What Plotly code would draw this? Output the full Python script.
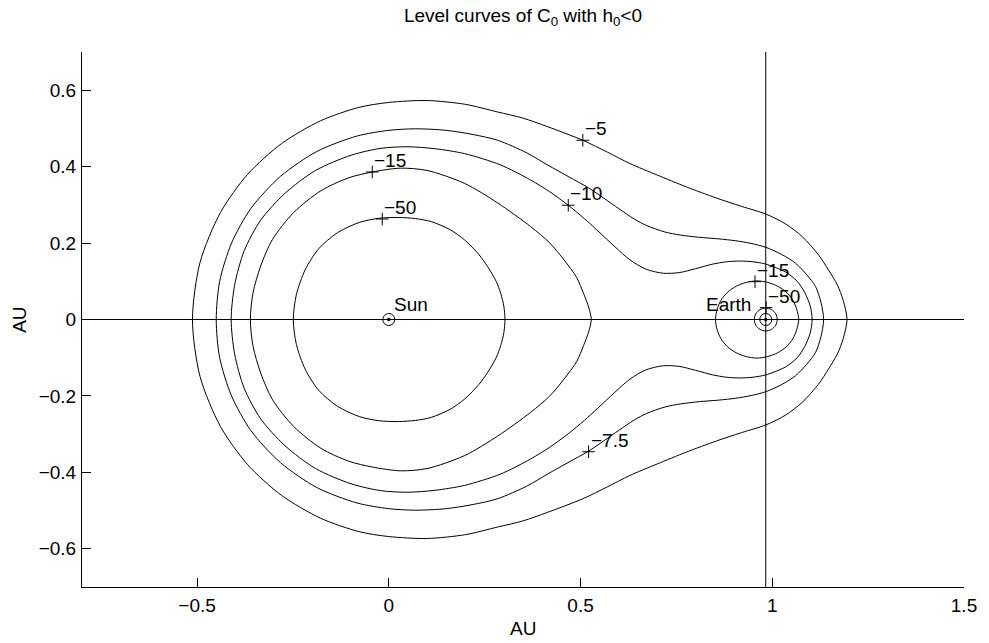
import plotly.graph_objects as go

# ---------------- data (upper halves; curves are symmetric about y=0) ----
sun_x, sun_y = 0.0, 0.0
earth_x, earth_y = 0.983, 0.0

# C0 = -5
c5_x = [-0.512, -0.492, -0.439, -0.368, -0.280, -0.178, -0.078, 0.000, 0.100, 0.200, 0.284, 0.350,
        0.413, 0.506, 0.570, 0.629, 0.700, 0.776, 0.854, 0.920, 0.983, 1.035, 1.078, 1.120, 1.147,
        1.170, 1.185, 1.195]
c5_y = [0.000, 0.150, 0.280, 0.380, 0.460, 0.520, 0.555, 0.568, 0.573, 0.563, 0.543, 0.527,
        0.505, 0.469, 0.438, 0.408, 0.378, 0.347, 0.318, 0.296, 0.276, 0.250, 0.217, 0.170, 0.129,
        0.090, 0.050, 0.000]

# C0 = -7.5
c75_x = [-0.450, -0.441, -0.410, -0.360, -0.282, -0.187, -0.083, 0.000, 0.070, 0.150, 0.220, 0.284,
         0.360, 0.413, 0.470, 0.520, 0.560, 0.600, 0.640, 0.672, 0.720, 0.760, 0.810, 0.860, 0.905,
         0.945, 0.983, 1.025, 1.061, 1.090, 1.113, 1.127, 1.134]
c75_y = [0.000, 0.100, 0.200, 0.290, 0.375, 0.440, 0.480, 0.495, 0.499, 0.495, 0.484, 0.469,
         0.436, 0.405, 0.373, 0.345, 0.318, 0.290, 0.263, 0.246, 0.229, 0.221, 0.215, 0.211, 0.206,
         0.199, 0.189, 0.170, 0.147, 0.117, 0.086, 0.045, 0.000]

# C0 = -10
c10_x = [-0.411, -0.402, -0.377, -0.334, -0.271, -0.191, -0.098, -0.020, 0.050, 0.120, 0.198, 0.290,
         0.370, 0.420, 0.468, 0.510, 0.543, 0.590, 0.629, 0.670, 0.716, 0.759, 0.800, 0.845, 0.880,
         0.914, 0.950, 0.983, 1.035, 1.065, 1.085, 1.099, 1.104]
c10_y = [0.000, 0.090, 0.180, 0.260, 0.330, 0.390, 0.430, 0.448, 0.452, 0.447, 0.434, 0.405,
         0.365, 0.334, 0.299, 0.264, 0.234, 0.190, 0.156, 0.132, 0.121, 0.123, 0.133, 0.145, 0.151,
         0.153, 0.151, 0.145, 0.124, 0.100, 0.070, 0.035, 0.000]

# C0 = -15 (Sun lobe)
c15s_x = [-0.361, -0.354, -0.334, -0.303, -0.248, -0.177, -0.104, -0.043, 0.030, 0.100, 0.198, 0.284,
          0.370, 0.420, 0.457, 0.490, 0.508, 0.522, 0.528]
c15s_y = [0.000, 0.070, 0.140, 0.210, 0.280, 0.337, 0.371, 0.386, 0.396, 0.390, 0.356, 0.305,
          0.243, 0.200, 0.156, 0.110, 0.068, 0.030, 0.000]

# C0 = -15 (Earth lobe)
c15e_x = [0.852, 0.856, 0.866, 0.884, 0.906, 0.932, 0.960, 0.988, 1.014, 1.036, 1.054, 1.064, 1.069]
c15e_y = [0.000, 0.026, 0.050, 0.072, 0.087, 0.097, 0.101, 0.097, 0.087, 0.072, 0.050, 0.026, 0.000]

# C0 = -50 (Sun lobe)
c50s_x = [-0.249, -0.241, -0.218, -0.183, -0.134, -0.077, -0.025, 0.025, 0.070, 0.111, 0.160, 0.198,
          0.235, 0.258, 0.280, 0.292, 0.300, 0.303]
c50s_y = [0.000, 0.065, 0.130, 0.185, 0.227, 0.254, 0.265, 0.267, 0.264, 0.256, 0.235, 0.208,
          0.170, 0.138, 0.100, 0.068, 0.035, 0.000]

# C0 = -50 (Earth lobe)
c50e_x = [0.953, 0.957, 0.968, 0.983, 0.998, 1.009, 1.013]
c50e_y = [0.000, 0.015, 0.026, 0.030, 0.026, 0.015, 0.000]

# contour labels (clabel '+' markers)
label_x = [0.506, 0.468, -0.043, -0.017, 0.521, 0.955, 0.984]
label_y = [0.469, 0.299, 0.386, 0.263, -0.346, 0.099, 0.031]
label_text = ["−5", "−10", "−15", "−50", "−7.5", "−15", "−50"]

x_ticks = [-0.5, 0, 0.5, 1, 1.5]
x_ticktext = ["−0.5", "0", "0.5", "1", "1.5"]
y_ticks = [-0.6, -0.4, -0.2, 0, 0.2, 0.4, 0.6]
y_ticktext = ["−0.6", "−0.4", "−0.2", "0", "0.2", "0.4", "0.6"]
x_range = [-0.8, 1.5]
y_range = [-0.7, 0.7]

# ---------------- figure ----------------
FONT = "Liberation Sans, Arial, Helvetica, sans-serif"
FS = 19
W, H = 989, 643
L, R, T, B = 82, 20, 52, 56


def closed(ux, uy):
    xs = list(ux) + list(ux[-2::-1])
    ys = list(uy) + [-v for v in uy[-2::-1]]
    return xs, ys


fig = go.Figure()
for ux, uy in [(c5_x, c5_y), (c75_x, c75_y), (c10_x, c10_y), (c15s_x, c15s_y),
               (c15e_x, c15e_y), (c50s_x, c50s_y), (c50e_x, c50e_y)]:
    xs, ys = closed(ux, uy)
    fig.add_trace(go.Scatter(x=xs, y=ys, mode="lines",
                             line=dict(color="black", width=1, shape="spline", smoothing=0.8),
                             hoverinfo="skip", showlegend=False))

fig.add_hline(y=sun_y, line=dict(color="black", width=1))
fig.add_vline(x=earth_x, line=dict(color="black", width=1))

# Sun / Earth symbols: open circle with a centre dot
fig.add_trace(go.Scatter(x=[sun_x, earth_x], y=[sun_y, earth_y], mode="markers",
                         marker=dict(symbol="circle-open", size=12, color="black",
                                     line=dict(color="black", width=1)),
                         hoverinfo="skip", showlegend=False))
fig.add_trace(go.Scatter(x=[sun_x, earth_x], y=[sun_y, earth_y], mode="markers",
                         marker=dict(symbol="circle", size=3.5, color="black"),
                         hoverinfo="skip", showlegend=False))

fig.add_trace(go.Scatter(x=label_x, y=label_y, mode="markers",
                         marker=dict(symbol="cross-thin", size=9,
                                     line=dict(color="black", width=1)),
                         hoverinfo="skip", showlegend=False))

for lx, ly, lt in zip(label_x, label_y, label_text):
    fig.add_annotation(x=lx, y=ly, text=lt, showarrow=False, xanchor="left", yanchor="bottom",
                       xshift=0, yshift=-1, font=dict(family=FONT, size=FS, color="black"))

fig.add_annotation(x=sun_x, y=sun_y, text="Sun", showarrow=False, xanchor="left",
                   yanchor="bottom", xshift=3, yshift=3,
                   font=dict(family=FONT, size=FS, color="black"))
fig.add_annotation(x=earth_x, y=earth_y, text="Earth", showarrow=False, xanchor="right",
                   yanchor="bottom", xshift=-13, yshift=3,
                   font=dict(family=FONT, size=FS, color="black"))

pw = W - L - R
ph = H - T - B
fig.add_annotation(text="AU", xref="paper", yref="paper", x=(525.5 - L) / pw,
                   y=-(628 - (H - B)) / ph, xanchor="center", yanchor="middle",
                   showarrow=False, font=dict(family=FONT, size=FS, color="black"))
fig.add_annotation(text="AU", xref="paper", yref="paper", x=(19 - L) / pw, y=0.5,
                   xanchor="center", yanchor="middle", textangle=-90,
                   showarrow=False, font=dict(family=FONT, size=FS, color="black"))

axis_common = dict(showline=True, linecolor="black", linewidth=1, ticks="inside", ticklen=9,
                   tickwidth=1, tickcolor="black", showgrid=False, zeroline=False, mirror=False,
                   tickfont=dict(family=FONT, size=FS, color="black"))
fig.update_xaxes(range=x_range, tickvals=x_ticks, ticktext=x_ticktext, ticklabelstandoff=1,
                 **axis_common)
fig.update_yaxes(range=y_range, tickvals=y_ticks, ticktext=y_ticktext, ticklabelstandoff=1,
                 **axis_common)

fig.update_layout(
    width=W, height=H, margin=dict(l=L, r=R, t=T, b=B),
    paper_bgcolor="white", plot_bgcolor="white",
    font=dict(family=FONT, size=FS, color="black"),
    title=dict(text="Level curves of C<sub>0</sub> with h<sub>0</sub>&lt;0", x=(525.5 - L) / pw,
               xref="paper", xanchor="center", y=1 - 15 / H, yref="container", yanchor="middle",
               font=dict(family=FONT, size=FS, color="black")),
)

fig.write_html("out.html")
